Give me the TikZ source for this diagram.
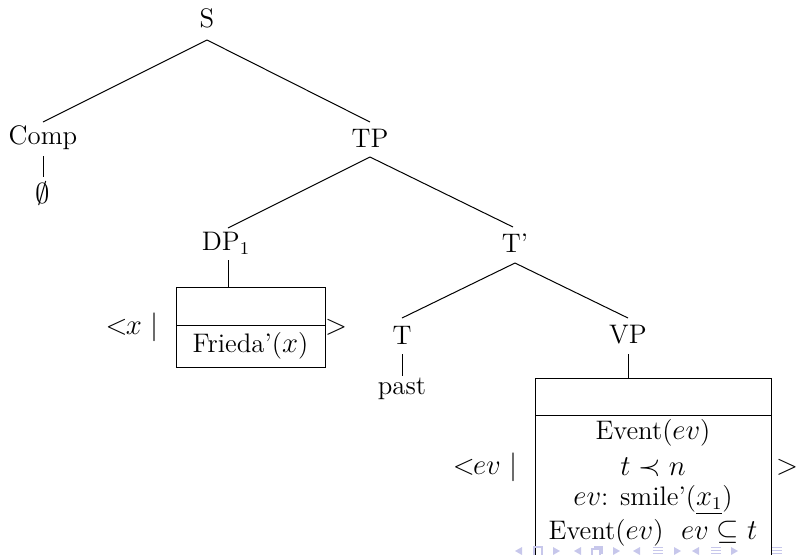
\documentclass[tikz,border=0pt]{standalone}
\usepackage{amssymb}
\usetikzlibrary{positioning}
\definecolor{navblue}{rgb}{0.78,0.78,0.92}
\begin{document}
\begin{tikzpicture}[x=0.5pt,y=-0.5pt,
  lab/.style={font=\fontsize{13.4}{16}\selectfont, inner sep=0pt},
  edge/.style={line width=0.5pt},
  nav/.style={fill=navblue, draw=none}]
\useasboundingbox (0,0) rectangle (797,554);
% tree labels
\node[lab] (S) at (207,18) {S};
\node[lab] (Comp) at (43,138) {Comp};
\node[lab] (TP) at (370,138) {TP};
\node[lab] (empty) at (43,193) {$\emptyset$};
\node[lab] (DP) at (226,243) {DP$_1$};
\node[lab] (Tbar) at (515,243) {T'};
\node[lab] (T) at (402,335) {T};
\node[lab] (VP) at (628,335) {VP};
\node[lab] (past) at (402,389) {past};
% connector anchors
\coordinate (Sb) at (207,40);
\coordinate (Compt) at (43,122);
\coordinate (TPt) at (370,122);
\coordinate (TPb) at (370,157);
\coordinate (Compb) at (43,156);
\coordinate (emptyt) at (43,177);
\coordinate (DPt) at (228,228);
\coordinate (Tbart) at (513,227);
\coordinate (Tbarb) at (515,263);
\coordinate (Tt) at (402,318);
\coordinate (VPt) at (628,318);
\coordinate (DPb) at (228,260);
\coordinate (Tb) at (402,354);
\coordinate (pastt) at (402,376);
\coordinate (VPb) at (628,354);
% boxes
\coordinate (box1tl) at (176,287);
\coordinate (box1br) at (325,367);
\coordinate (box2tl) at (535,378);
\coordinate (box2br) at (771,560);
\draw[edge] (Sb) -- (Compt);
\draw[edge] (Sb) -- (TPt);
\draw[edge] (Compb) -- (emptyt);
\draw[edge] (TPb) -- (DPt);
\draw[edge] (TPb) -- (Tbart);
\draw[edge] (Tbarb) -- (Tt);
\draw[edge] (Tbarb) -- (VPt);
\draw[edge] (Tb) -- (pastt);
\draw[edge] (DPb) -- (228,287);
\draw[edge] (VPb) -- (628,378);
% DRS box for DP
\draw[edge] (box1tl) rectangle (box1br);
\draw[edge] (176,325) -- (325,325);
\node[lab] (frieda) at (250.5,346) {Frieda'($x$)};
\node[lab, anchor=east] (lx) at (159,327) {$<\!\!x\ |$};
\node[lab] (rx) at (336,327) {$>$};
% DRS box for VP
\draw[edge] (box2tl) rectangle (box2br);
\draw[edge] (535,415) -- (771,415);
\node[lab] (c1) at (653,433) {Event($ev$)};
\node[lab] (c2) at (653,467) {$t \prec n$};
\node[lab] (c3) at (653,500) {$ev$: smile'($\underline{x_1}$)};
\node[lab] (c4) at (653,533) {Event($ev$)\ \ $ev \subseteq t$};
\node[lab, anchor=east] (lev) at (518,467) {$<\!\!ev\ |$};
\node[lab] (rev) at (787,467) {$>$};
% navigation symbols (partly cut off)
\foreach \x in {519,578,637,696} \fill[nav] (\x-4,551) -- (\x+3,547) -- (\x+3,555) -- cycle;
\foreach \x in {556,616,677,734} \fill[nav] (\x+4,551) -- (\x-3,547) -- (\x-3,555) -- cycle;
\draw[navblue, line width=0.6pt] (534,547) rectangle (542,556);
\draw[navblue, line width=0.6pt] (592,549) rectangle (600,556) (594,547) -- (602,547) -- (602,554);
\foreach \x in {658,716,777} {
  \fill[nav] (\x-5,546.5) rectangle (\x+5,547.5);
  \fill[nav] (\x-5,549.5) rectangle (\x+5,550.5);
  \fill[nav] (\x-5,552.5) rectangle (\x+5,553.5);
}
\end{tikzpicture}
\end{document}
